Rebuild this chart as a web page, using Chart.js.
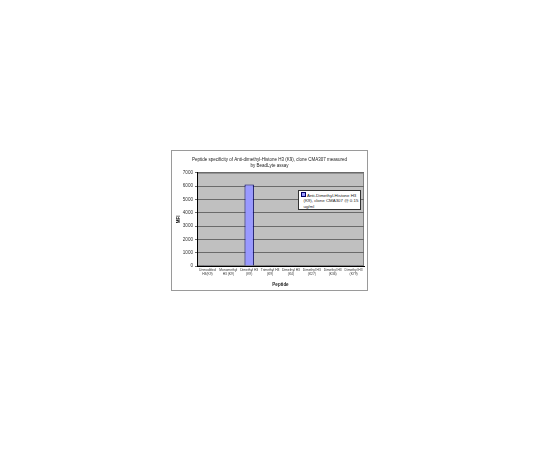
<!DOCTYPE html>
<html>
<head>
<meta charset="utf-8">
<script src="https://cdn.jsdelivr.net/npm/chart.js@4.4.1/dist/chart.umd.min.js"></script>
<style>
  html, body { margin: 0; padding: 0; background: #fff; }
  #box { position: absolute; left: 171px; top: 150px; width: 195px; height: 139px; border: 1px solid #9a9a9a; background: #fff; }
  #legend { position: absolute; left: 126px; top: 39px; width: 57px; height: 16px; padding: 1px 2px; background: #fff; border: 1px solid #333;
    font: 4.4px Arial, "Liberation Sans", sans-serif; line-height: 5.4px; color: #222; white-space: nowrap; }
  #legend i { display: inline-block; width: 3px; height: 3px; background: #9999ff; border: 0.5px solid #000066; margin-right: 1px; vertical-align: 0; }
</style>
</head>
<body>
<div id="box">
  <canvas id="c" width="195" height="139"></canvas>
  <div id="legend"></div>
</div>
<script>
var categories = [
  ['Unmodified', 'H3(K9)'],
  ['Monomethyl', 'H3 (K9)'],
  ['Dimethyl H3', '(K9)'],
  ['Trimethyl H3', '(K9)'],
  ['Dimethyl H3', '(K4)'],
  ['Dimethyl H3', '(K27)'],
  ['Dimethyl H3', '(K36)'],
  ['Dimethyl H3', '(K79)']
];
var seriesLines = ['Anti-Dimethyl-Histone H3', '(K9), clone CMA307 @ 0.15', 'ug/ml'];
var mfiValues = [10, 45, 6120, 50, 10, 45, 50, 10];
var yTicks = [0, 1000, 2000, 3000, 4000, 5000, 6000, 7000];

var legendEl = document.getElementById('legend');
legendEl.innerHTML = '<i></i>' + seriesLines.join('<br>&nbsp;&nbsp;');

var plotBg = {
  id: 'plotBg',
  beforeDraw: function(chart){
    var a = chart.chartArea, ctx = chart.ctx;
    ctx.save();
    ctx.fillStyle = '#c0c0c0';
    ctx.fillRect(a.left, a.top, a.right - a.left, a.bottom - a.top);
    ctx.strokeStyle = '#808080';
    ctx.lineWidth = 1;
    ctx.strokeRect(a.left + 0.5, a.top + 0.5, a.right - a.left - 1, a.bottom - a.top - 1);
    ctx.restore();
  }
};

var font = 'Arial, "Liberation Sans", sans-serif';
new Chart(document.getElementById('c').getContext('2d'), {
  type: 'bar',
  data: {
    labels: categories,
    datasets: [{
      label: seriesLines.join(' '),
      data: mfiValues,
      backgroundColor: '#9999ff',
      borderColor: '#000066',
      borderWidth: 1,
      categoryPercentage: 1,
      barPercentage: 0.45
    }]
  },
  options: {
    responsive: false,
    animation: false,
    layout: { padding: { left: 3, right: 3, top: 0, bottom: 2 } },
    plugins: {
      legend: { display: false },
      tooltip: { enabled: false },
      title: {
        display: true,
        text: ['Peptide specificity of Anti-dimethyl-Histone H3 (K9), clone CMA307 measured', 'by BeadLyte assay'],
        color: '#222',
        font: { family: font, size: 4.5, weight: 'normal', lineHeight: 1.3 },
        padding: { top: 6, bottom: 4 }
      }
    },
    scales: {
      x: {
        grid: { display: false, drawTicks: false, tickLength: 0 },
        border: { color: '#000', width: 1 },
        ticks: { color: '#333', font: { family: font, size: 3.3, lineHeight: 1.2 }, maxRotation: 0, autoSkip: false, padding: 2 },
        title: { display: true, text: 'Peptide', color: '#222', font: { family: font, size: 4.5, weight: 'bold' }, padding: { top: 1, bottom: 1 } },
        afterFit: function(s){ s.height = 22; }
      },
      y: {
        min: 0, max: 7000,
        afterBuildTicks: function(s){ s.ticks = yTicks.map(function(v){ return { value: v }; }); },
        grid: { color: '#6a6a6a', lineWidth: 1, tickLength: 2, drawTicks: true },
        border: { color: '#000', width: 1 },
        ticks: { color: '#333', font: { family: font, size: 4.6 }, padding: 2, callback: function(v){ return String(v); } },
        title: { display: true, text: 'MFI', color: '#222', font: { family: font, size: 4.5, weight: 'bold' }, padding: 1 },
        afterFit: function(s){ s.width = 22; }
      }
    }
  },
  plugins: [plotBg]
});
</script>
</body>
</html>
